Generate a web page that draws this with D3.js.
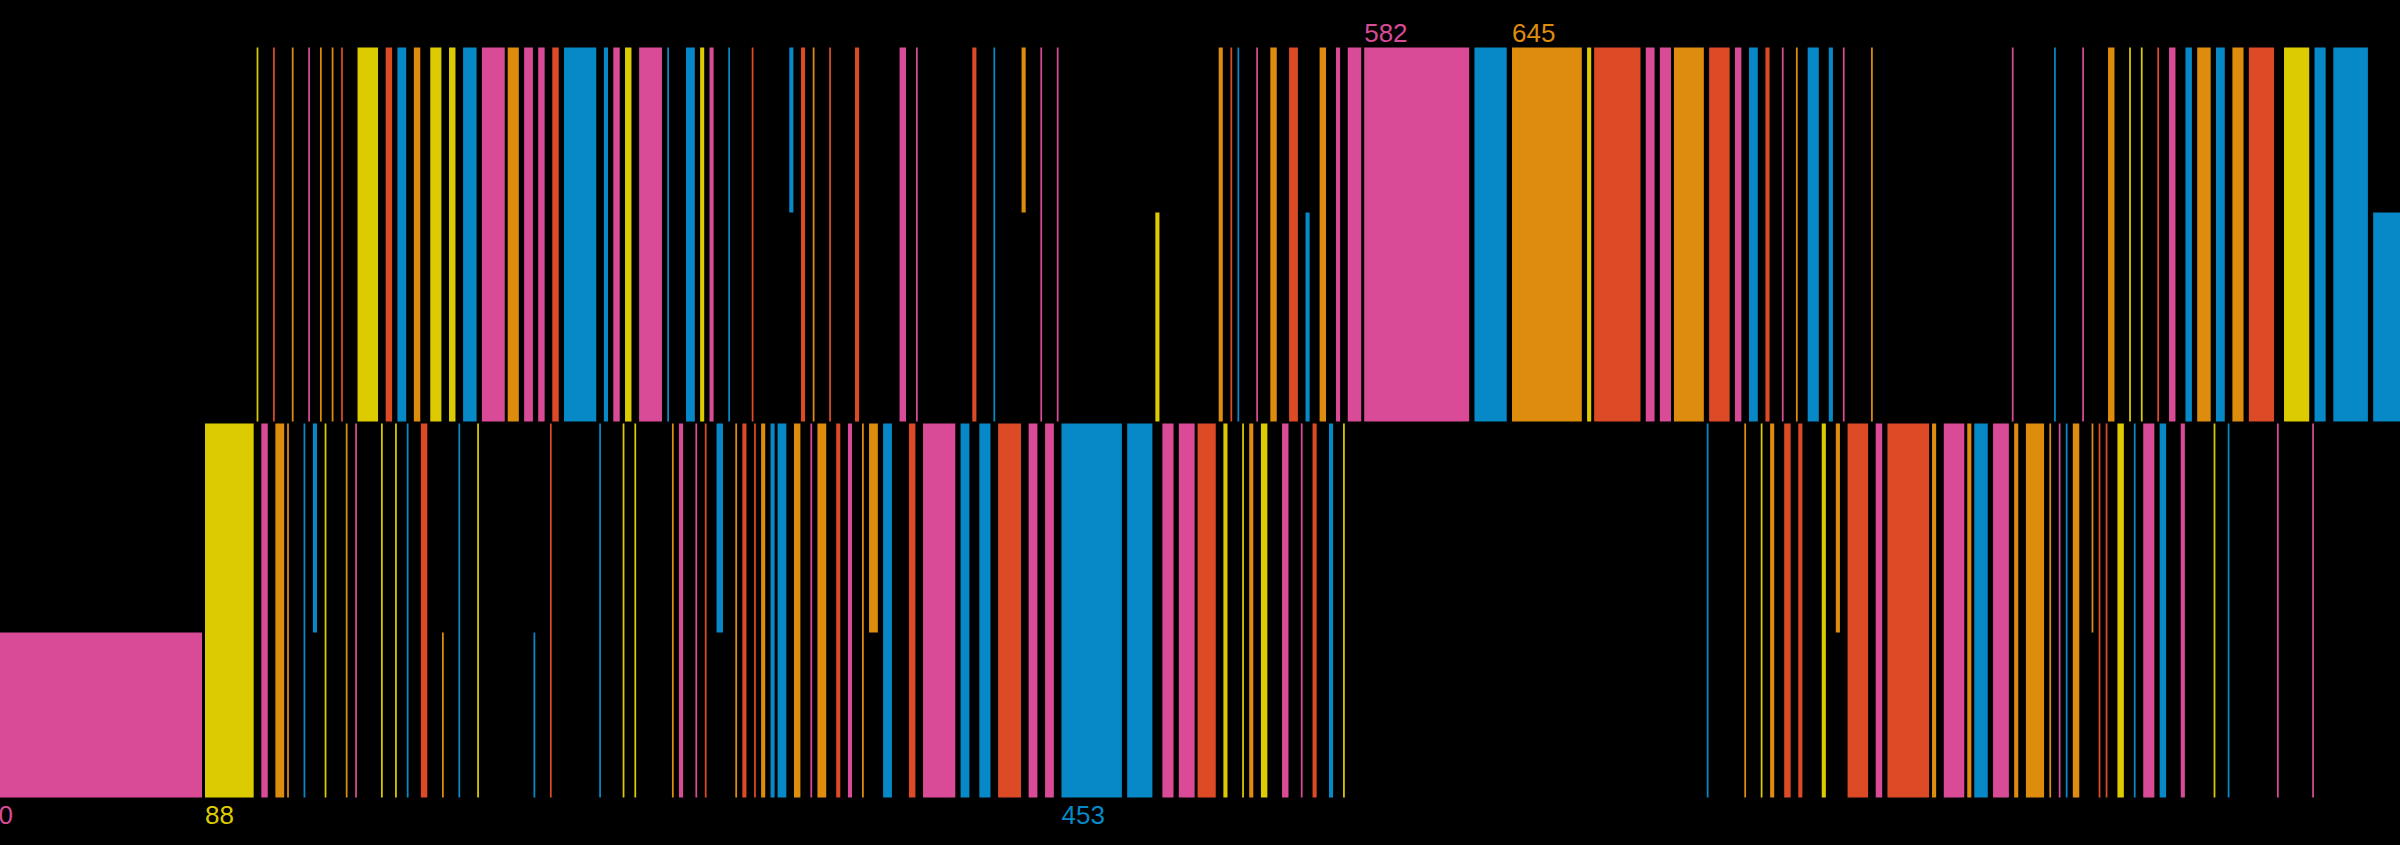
<!DOCTYPE html>
<html lang="en">
<head>
<meta charset="UTF-8">
<title>Bars</title>
<script src="https://d3js.org/d3.v7.min.js"></script>
<style>
  html, body { margin: 0; padding: 0; background: #000; }
  svg { display: block; }
  .lbl { font-family: "Liberation Sans", Arial, sans-serif; font-size: 26px; }
</style>
</head>
<body>
<svg width="2400" height="845"></svg>
<script>
// categories (A pink, B yellow, C blue, D orange, E red)
const categories = ["A", "B", "C", "D", "E"];

// [start, length, category, span]  span: f = full, n = half next to the middle, x = outer half
const topBars = [
  [110,1,"B"],[117,1,"E"],[125,1,"D"],[132,1,"A"],[137,1,"D"],[142,1,"D"],[146,1,"E"],
  [153,9,"B"],[165,3,"E"],[170,4,"C"],[177,3,"D"],[184,5,"B"],[192,3,"B"],[198,6,"C"],
  [206,10,"A"],[217,5,"D"],[224,4,"A"],[230,3,"A"],[236,3,"E"],[241,14,"C"],[258,2,"C"],
  [262,3,"A"],[267,3,"B"],[273,10,"A"],[285,1,"C"],[293,4,"C"],[299,2,"B"],[303,2,"A"],
  [311,1,"C"],[321,1,"E"],[337,2,"C","x"],[342,2,"E"],[347,1,"D"],[354,1,"E"],[365,2,"E"],
  [384,3,"A"],[391,1,"A"],[415,2,"E"],[424,1,"C"],[436,2,"D","x"],[444,1,"A"],[451,1,"A"],
  [493,2,"B","n"],[520,2,"D"],[525,1,"E"],[528,1,"C"],[536,1,"A"],[542,3,"D"],[550,4,"E"],
  [557,2,"C","n"],[563,3,"D"],[570,2,"A"],[575,6,"A"],[582,45,"A"],[629,14,"C"],[645,30,"D"],
  [677,2,"B"],[680,20,"E"],[702,4,"A"],[708,5,"A"],[714,13,"D"],[729,9,"E"],[740,3,"A"],
  [746,4,"C"],[753,2,"E"],[760,1,"A"],[766,1,"D"],[771,5,"C"],[780,2,"C"],[786,1,"A"],
  [798,1,"D"],[858,1,"A"],[876,1,"C"],[888,1,"A"],[899,3,"D"],[908,1,"B"],[913,1,"B"],
  [920,1,"E"],[925,3,"A"],[932,3,"C"],[937,6,"D"],[945,4,"C"],[952,5,"D"],[959,11,"E"],
  [974,11,"B"],[987,5,"C"],[995,15,"C"],[1012,15,"C","n"]
];

const bottomBars = [
  [0,87,"A","x"],[88,21,"B"],[112,3,"A"],[118,4,"D"],[123,1,"D"],[130,1,"C"],[134,2,"C","n"],
  [139,1,"B"],[148,1,"D"],[152,1,"A"],[163,1,"B"],[169,1,"B"],[174,1,"C"],[180,3,"E"],
  [189,1,"D","x"],[196,1,"C"],[204,1,"B"],[228,1,"C","x"],[235,1,"E"],[256,1,"C"],[266,1,"B"],
  [271,1,"B"],[287,1,"D"],[290,2,"A"],[297,1,"A"],[301,1,"E"],[306,3,"C","n"],[314,1,"D"],
  [317,2,"E"],[322,1,"E"],[325,2,"D"],[329,2,"C"],[332,4,"C"],[339,3,"D"],[346,1,"A"],
  [349,4,"D"],[357,2,"E"],[362,2,"A"],[368,1,"D"],[371,4,"D","n"],[377,4,"C"],[388,3,"E"],
  [394,14,"A"],[410,4,"C"],[418,5,"C"],[426,10,"E"],[439,4,"A"],[446,4,"A"],[453,26,"C"],
  [481,11,"C"],[496,5,"A"],[503,7,"A"],[511,8,"E"],[522,2,"B"],[530,1,"B"],[533,2,"D"],
  [538,3,"B"],[547,3,"A"],[555,1,"A"],[560,2,"E"],[567,2,"C"],[573,1,"B"],[728,1,"C"],
  [744,1,"D"],[751,1,"B"],[755,2,"D"],[761,3,"E"],[767,2,"E"],[777,2,"B"],[783,2,"D","n"],
  [788,9,"E"],[800,3,"A"],[805,18,"E"],[824,2,"D"],[829,9,"A"],[839,2,"D"],[842,6,"C"],
  [850,7,"A"],[859,2,"D"],[864,8,"D"],[874,1,"D"],[878,1,"A"],[881,1,"C"],[884,3,"D"],
  [892,1,"D","n"],[895,1,"E"],[898,1,"E"],[903,3,"B"],[910,1,"C"],[914,5,"A"],[921,3,"C"],
  [930,2,"A"],[944,1,"B"],[950,1,"C"],[971,1,"A"],[986,1,"A"]
];

// labelled starts
const topLabels = [[582,"A"],[645,"D"]];
const bottomLabels = [[0,"A"],[88,"B"],[453,"C"]];

// fraction of a row covered by each span
const spans = { f: [0, 1], n: [0, 0.56], x: [0.56, 1] };

const svg = d3.select("svg");

const x = d3.scaleLinear().domain([0, 1023]).range([-1.5, 2399]);
const y = d3.scaleLinear().domain([-1, 1]).range([797.5, 47.5]);
const color = d3.scaleOrdinal()
  .domain(categories)
  .range(["#d94a97", "#dccb00", "#0689c6", "#de8c0e", "#dd4a26"]);

const mid = 1;    // half gap between the two rows
const gap = 0.6;  // gap after each bar

function drawRow(bars, sign) {
  svg.append("g")
    .selectAll("rect")
    .data(bars)
    .join("rect")
    .attr("x", d => x(d[0]))
    .attr("width", d => x(d[0] + d[1]) - x(d[0]) - gap)
    .attr("y", d => {
      const s = spans[d[3] || "f"];
      return sign > 0 ? y(s[1]) : y(-s[0]) + (s[0] === 0 ? mid : 0);
    })
    .attr("height", d => {
      const s = spans[d[3] || "f"];
      return Math.abs(y(s[1]) - y(s[0])) - (s[0] === 0 ? mid : 0);
    })
    .attr("fill", d => color(d[2]));
}

drawRow(topBars, 1);
drawRow(bottomBars, -1);

function drawLabels(list, baseline) {
  svg.append("g")
    .selectAll("text")
    .data(list)
    .join("text")
    .attr("class", "lbl")
    .attr("x", d => x(d[0]))
    .attr("y", baseline)
    .attr("fill", d => color(d[1]))
    .text(d => d[0]);
}

drawLabels(topLabels, 42);
drawLabels(bottomLabels, 824);
</script>
</body>
</html>
